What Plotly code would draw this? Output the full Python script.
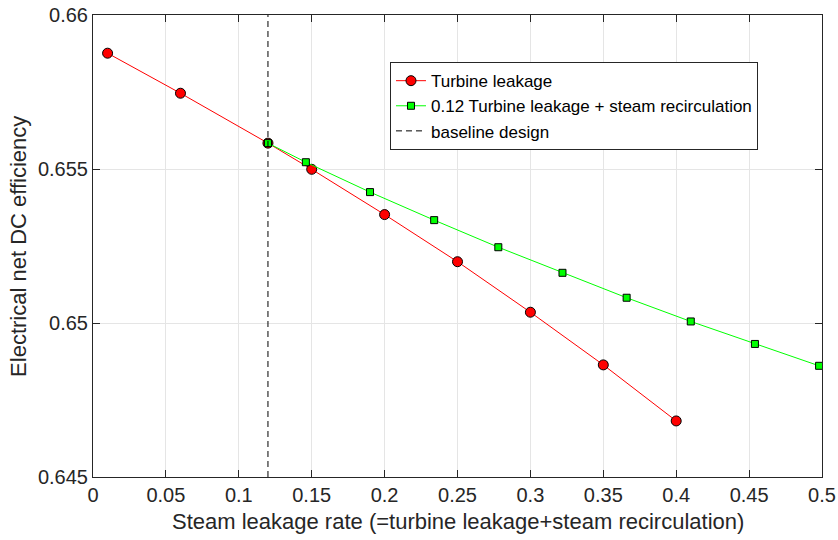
import plotly.graph_objects as go

# Turbine leakage sweep
leak_x = [0.01, 0.06, 0.12, 0.15, 0.20, 0.25, 0.30, 0.35, 0.40]
leak_eff = [0.65876, 0.65746, 0.65584, 0.65499, 0.65352, 0.65199, 0.65035, 0.64864, 0.64682]

# 0.12 turbine leakage plus steam recirculation
recirc_x = [0.12, 0.146, 0.19, 0.234, 0.278, 0.322, 0.366, 0.41, 0.454, 0.498]
recirc_eff = [0.65584, 0.65522, 0.65425, 0.65334, 0.65246, 0.65163, 0.65082, 0.65005, 0.64932, 0.64861]

baseline_x = [0.12, 0.12]
y_range = [0.645, 0.66]

x_ticks = [0, 0.05, 0.1, 0.15, 0.2, 0.25, 0.3, 0.35, 0.4, 0.45, 0.5]
x_tick_text = ["0", "0.05", "0.1", "0.15", "0.2", "0.25", "0.3", "0.35", "0.4", "0.45", "0.5"]
y_ticks = [0.645, 0.65, 0.655, 0.66]
y_tick_text = ["0.645", "0.65", "0.655", "0.66"]

x_title = "Steam leakage rate (=turbine leakage+steam recirculation)"
y_title = "Electrical net DC efficiency"

font_family = "Liberation Sans, Arial, sans-serif"
text_color = "#262626"

fig = go.Figure()
fig.add_trace(go.Scatter(
    x=leak_x, y=leak_eff, mode="lines+markers", name="Turbine leakage",
    line=dict(color="#ff0000", width=1),
    marker=dict(symbol="circle", size=10, color="#ff0000", line=dict(color="#000000", width=1)),
))
fig.add_trace(go.Scatter(
    x=recirc_x, y=recirc_eff, mode="lines+markers",
    name="0.12 Turbine leakage + steam recirculation",
    line=dict(color="#00ff00", width=1),
    marker=dict(symbol="square", size=7, color="#00ff00", line=dict(color="#000000", width=1)),
))
fig.add_trace(go.Scatter(
    x=baseline_x, y=y_range, mode="lines", name="baseline design",
    line=dict(color="#000000", width=1, dash="6px,4px"),
))

axis_common = dict(
    showline=True, linecolor=text_color, linewidth=1, mirror="ticks",
    ticks="inside", ticklen=7, tickcolor=text_color,
    showgrid=True, gridcolor="#e5e5e5", gridwidth=1,
    zeroline=False, automargin=False,
    tickfont=dict(family=font_family, size=20, color=text_color),
)

fig.update_xaxes(range=[0, 0.5], tickvals=x_ticks, ticktext=x_tick_text, **axis_common)
fig.update_yaxes(range=y_range, tickvals=y_ticks, ticktext=y_tick_text, **axis_common)

# Axis titles placed relative to the plotting area
title_font = dict(family=font_family, size=22, color=text_color)
fig.add_annotation(text=x_title, xref="paper", yref="paper", x=0.5, y=-0.0974,
                   xanchor="center", yanchor="middle", showarrow=False, font=title_font)
fig.add_annotation(text=y_title, xref="paper", yref="paper", x=-0.103, y=0.5,
                   xanchor="center", yanchor="middle", textangle=-90, showarrow=False,
                   font=title_font)

fig.update_layout(
    width=838, height=540,
    margin=dict(l=93, r=16, t=15, b=63),
    paper_bgcolor="white", plot_bgcolor="white",
    font=dict(family=font_family, color="#000000"),
    showlegend=True,
    legend=dict(
        x=0.4074, y=0.898, xanchor="left", yanchor="top",
        bgcolor="white", bordercolor=text_color, borderwidth=1,
        font=dict(family=font_family, size=17, color="#000000"),
        tracegroupgap=0, itemwidth=30,
    ),
)

fig.write_html("out.html")
